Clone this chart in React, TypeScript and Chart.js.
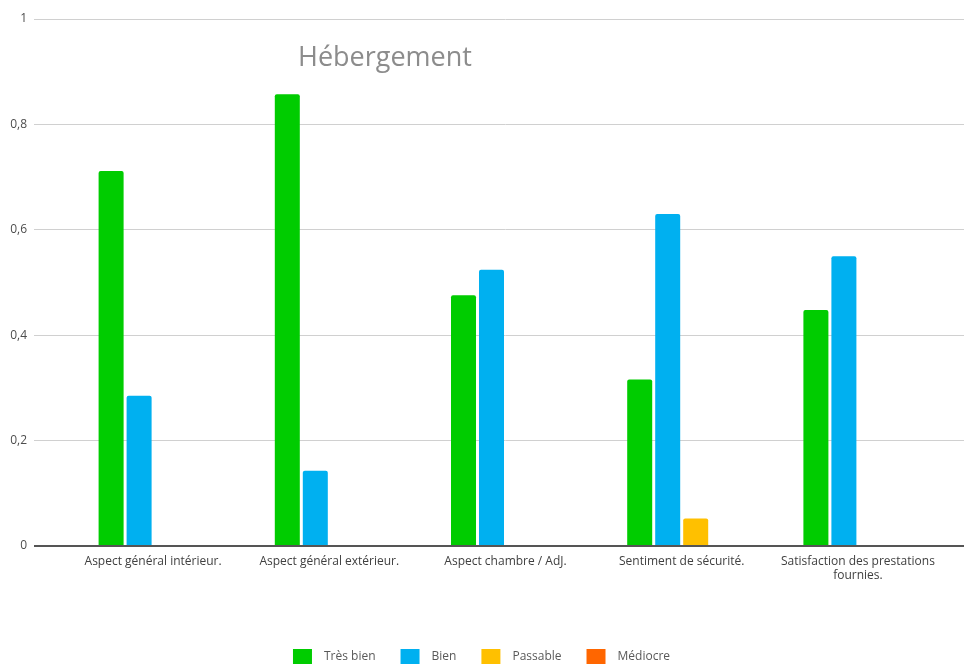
import React, { useEffect, useRef } from "react";
import { Chart, registerables } from "chart.js";

Chart.register(...registerables);

const categories: (string | string[])[] = [
  "Aspect général intérieur.",
  "Aspect général extérieur.",
  "Aspect chambre / AdJ.",
  "Sentiment de sécurité.",
  ["Satisfaction des prestations", "fournies."],
];
const tresBien = [0.7115, 0.857, 0.476, 0.316, 0.448];
const bien = [0.285, 0.143, 0.524, 0.63, 0.55];
const passable = [0, 0, 0, 0.052, 0];
const mediocre = [0, 0, 0, 0, 0];
const yTickLabels = ["0", "0,2", "0,4", "0,6", "0,8", "1"];
const titleText = "Hébergement";

const FONT = "'Open Sans', 'Noto Sans', sans-serif";

export default function App() {
  const ref = useRef<HTMLCanvasElement | null>(null);
  useEffect(() => {
    if (!ref.current) return;
    const gridColor = (ctx: any) => (ctx.tick && ctx.tick.value === 0 ? "#555555" : "#d0d0d0");
    const gridWidth = (ctx: any) => (ctx.tick && ctx.tick.value === 0 ? 2 : 1);
    const bar = (label: string, data: number[], color: string) => ({
      label,
      data,
      backgroundColor: color,
      borderWidth: 0,
      borderRadius: { topLeft: 2, topRight: 2, bottomLeft: 0, bottomRight: 0 },
      borderSkipped: false as any,
      categoryPercentage: 0.6356,
      barPercentage: 0.893,
    });
    const chart = new Chart(ref.current, {
      type: "bar",
      data: {
        labels: categories,
        datasets: [
          bar("Très bien", tresBien, "#00cc00"),
          bar("Bien", bien, "#00b0f0"),
          bar("Passable", passable, "#ffc000"),
          bar("Médiocre", mediocre, "#ff6600"),
        ],
      },
      options: {
        animation: false,
        responsive: false,
        layout: { padding: { top: 19, left: -7, right: 0, bottom: -16 } },
        plugins: {
          title: { display: false },
          tooltip: { enabled: false },
          legend: {
            position: "bottom",
            labels: {
              font: { family: FONT, size: 12 },
              color: "#595959",
              boxWidth: 31,
              boxHeight: 27,
              padding: 19,
              generateLabels: (c: any) =>
                Chart.defaults.plugins.legend.labels.generateLabels(c).map((it: any) => ({
                  ...it,
                  strokeStyle: "#ffffff",
                  lineWidth: 12,
                })),
            },
          },
        },
        scales: {
          x: {
            offset: true,
            grid: { display: false, drawTicks: false },
            border: { display: false },
            ticks: {
              font: { family: FONT, size: 12, lineHeight: 1.15 },
              color: "#404040",
              padding: 9,
              maxRotation: 0,
              autoSkip: false,
            },
            afterFit: (s: any) => {
              s.height = 78;
            },
          },
          y: {
            min: 0,
            max: 1,
            border: { display: false },
            grid: { color: gridColor, lineWidth: gridWidth, tickLength: 31 },
            ticks: {
              stepSize: 0.2,
              padding: 7,
              font: { family: FONT, size: 12 },
              color: "#4d4d4d",
              callback: (_v: any, i: number) => yTickLabels[i],
            },
            afterFit: (s: any) => {
              s.width = 72;
            },
          },
          y2: {
            position: "right",
            min: 0,
            max: 1,
            border: { display: false },
            grid: { color: gridColor, lineWidth: gridWidth, tickLength: 18, drawOnChartArea: false },
            ticks: { display: false, stepSize: 0.2 },
            afterFit: (s: any) => {
              s.width = 18;
            },
          },
        },
      },
    });
    return () => chart.destroy();
  }, []);
  return (
    <div style={{ position: "fixed", left: 0, top: 0, width: 964, height: 664, overflow: "hidden", background: "#fff" }}>
      <canvas ref={ref} width={964} height={664} style={{ display: "block", width: 964, height: 664 }} />
      <div
        style={{
          position: "absolute",
          left: 298,
          top: 42,
          fontFamily: FONT,
          fontSize: 27,
          lineHeight: "28px",
          color: "#8c8c8c",
          whiteSpace: "nowrap",
        }}
      >
        {titleText}
      </div>
    </div>
  );
}
